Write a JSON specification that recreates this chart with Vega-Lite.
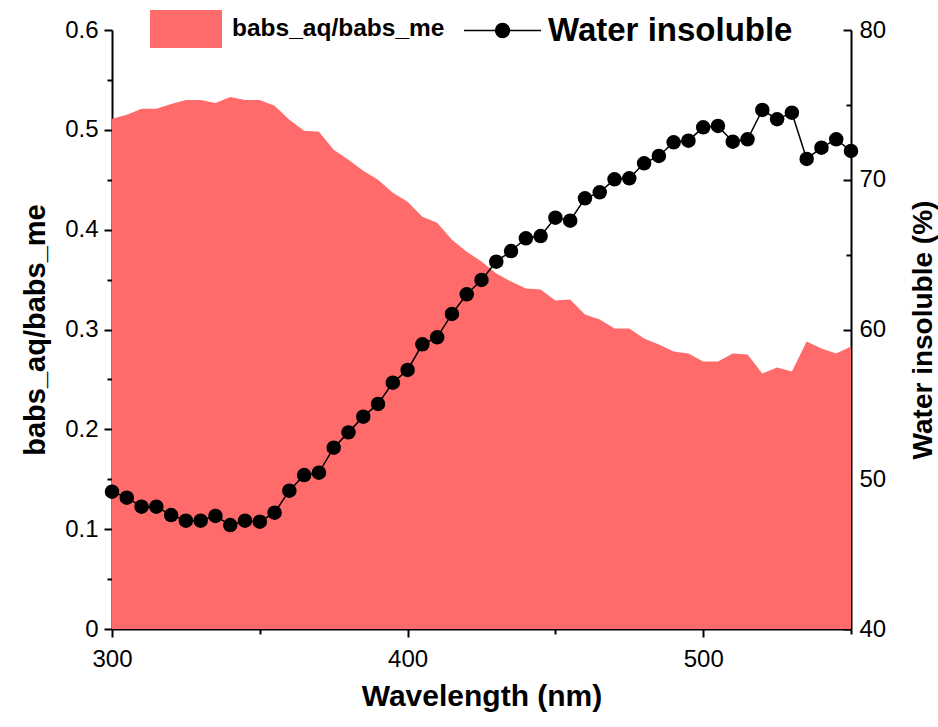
{
  "$schema": "https://vega.github.io/schema/vega-lite/v6.json",
  "width": 739,
  "height": 599,
  "autosize": {"type": "none"},
  "padding": {"left": 112, "top": 30, "right": 87, "bottom": 98},
  "background": "white",
  "config": {
    "view": {"stroke": null},
    "font": "Liberation Sans",
    "axis": {"grid": false, "domainColor": "black", "domainWidth": 2, "tickColor": "black", "tickWidth": 2, "labelColor": "black", "titleColor": "black", "labelFont": "Liberation Sans", "titleFont": "Liberation Sans", "labelFontSize": 24, "titleFontSize": 28, "titleFontWeight": "bold"}
  },
  "data": {"values": [
    {"wl": 300, "ratio": 0.511, "ins": 49.17},
    {"wl": 305, "ratio": 0.515, "ins": 48.77},
    {"wl": 310, "ratio": 0.521, "ins": 48.17},
    {"wl": 315, "ratio": 0.521, "ins": 48.17},
    {"wl": 320, "ratio": 0.526, "ins": 47.61},
    {"wl": 325, "ratio": 0.530, "ins": 47.23},
    {"wl": 330, "ratio": 0.530, "ins": 47.23},
    {"wl": 335, "ratio": 0.527, "ins": 47.55},
    {"wl": 340, "ratio": 0.533, "ins": 46.94},
    {"wl": 345, "ratio": 0.530, "ins": 47.23},
    {"wl": 350, "ratio": 0.530, "ins": 47.17},
    {"wl": 355, "ratio": 0.524, "ins": 47.77},
    {"wl": 360, "ratio": 0.510, "ins": 49.24},
    {"wl": 365, "ratio": 0.499, "ins": 50.28},
    {"wl": 370, "ratio": 0.498, "ins": 50.44},
    {"wl": 375, "ratio": 0.480, "ins": 52.11},
    {"wl": 380, "ratio": 0.470, "ins": 53.13},
    {"wl": 385, "ratio": 0.459, "ins": 54.18},
    {"wl": 390, "ratio": 0.450, "ins": 55.03},
    {"wl": 395, "ratio": 0.437, "ins": 56.45},
    {"wl": 400, "ratio": 0.428, "ins": 57.30},
    {"wl": 405, "ratio": 0.413, "ins": 59.01},
    {"wl": 410, "ratio": 0.407, "ins": 59.48},
    {"wl": 415, "ratio": 0.390, "ins": 61.04},
    {"wl": 420, "ratio": 0.378, "ins": 62.35},
    {"wl": 425, "ratio": 0.368, "ins": 63.31},
    {"wl": 430, "ratio": 0.356, "ins": 64.53},
    {"wl": 435, "ratio": 0.348, "ins": 65.24},
    {"wl": 440, "ratio": 0.341, "ins": 66.09},
    {"wl": 445, "ratio": 0.340, "ins": 66.24},
    {"wl": 450, "ratio": 0.329, "ins": 67.47},
    {"wl": 455, "ratio": 0.330, "ins": 67.27},
    {"wl": 460, "ratio": 0.315, "ins": 68.76},
    {"wl": 465, "ratio": 0.310, "ins": 69.16},
    {"wl": 470, "ratio": 0.301, "ins": 70.03},
    {"wl": 475, "ratio": 0.301, "ins": 70.10},
    {"wl": 480, "ratio": 0.291, "ins": 71.10},
    {"wl": 485, "ratio": 0.285, "ins": 71.59},
    {"wl": 490, "ratio": 0.278, "ins": 72.50},
    {"wl": 495, "ratio": 0.276, "ins": 72.61},
    {"wl": 500, "ratio": 0.268, "ins": 73.50},
    {"wl": 505, "ratio": 0.268, "ins": 73.59},
    {"wl": 510, "ratio": 0.276, "ins": 72.54},
    {"wl": 515, "ratio": 0.275, "ins": 72.70},
    {"wl": 520, "ratio": 0.256, "ins": 74.66},
    {"wl": 525, "ratio": 0.262, "ins": 74.04},
    {"wl": 530, "ratio": 0.258, "ins": 74.48},
    {"wl": 535, "ratio": 0.288, "ins": 71.39},
    {"wl": 540, "ratio": 0.281, "ins": 72.14},
    {"wl": 545, "ratio": 0.276, "ins": 72.70},
    {"wl": 550, "ratio": 0.283, "ins": 71.92}
  ]},
  "encoding": {
    "x": {
      "field": "wl", "type": "quantitative",
      "scale": {"domain": [300, 550], "nice": false, "zero": false},
      "axis": {
        "title": "Wavelength (nm)", "titlePadding": 10, "titleFontSize": 30,
        "values": [300, 350, 400, 450, 500, 550],
        "labelExpr": "datum.value % 100 == 0 ? datum.label : ''",
        "tickSize": {"condition": {"test": "datum.value % 100 != 0", "value": 5}, "value": 8},
        "labelPadding": 10, "labelFlush": false
      }
    }
  },
  "layer": [
    {
      "mark": {"type": "area", "color": "#FF6B6B", "opacity": 1, "interpolate": "linear"},
      "encoding": {
        "y": {
          "field": "ratio", "type": "quantitative",
          "scale": {"domain": [0, 0.6], "nice": false},
          "axis": {
            "title": "babs_aq/babs_me", "titlePadding": 14, "titleFontSize": 29,
            "values": [0, 0.05, 0.1, 0.15, 0.2, 0.25, 0.3, 0.35, 0.4, 0.45, 0.5, 0.55, 0.6],
            "labelExpr": "datum.value == 0 ? '0' : (round(datum.value*100) % 10 == 0 ? format(datum.value, '.1f') : '')",
            "tickSize": {"condition": {"test": "round(datum.value*100) % 10 != 0", "value": 5}, "value": 8},
            "labelPadding": 6, "labelFlush": false
          }
        },
        "fill": {
          "datum": "babs_aq/babs_me",
          "scale": {"range": ["#FF6B6B"]},
          "legend": {
            "title": null, "orient": "none", "legendX": 38, "legendY": -37,
            "symbolType": "M-1,-0.53H1V0.53H-1Z", "symbolSize": 5184, "symbolStrokeWidth": 0, "symbolOpacity": 1,
            "labelFontSize": 24.5, "labelFontWeight": "bold", "labelColor": "black", "labelFont": "Liberation Sans", "labelOffset": 10, "labelLimit": 0
          }
        }
      }
    },
    {
      "encoding": {
        "y": {
          "field": "ins", "type": "quantitative",
          "scale": {"domain": [40, 80], "nice": false, "zero": false},
          "axis": {
            "orient": "right", "title": "Water insoluble (%)", "titleAngle": -90, "titlePadding": 52,
            "values": [40, 45, 50, 55, 60, 65, 70, 75, 80],
            "labelExpr": "datum.value % 10 == 0 ? datum.label : ''",
            "tickSize": {"condition": {"test": "datum.value % 10 != 0", "value": -5}, "value": -8},
            "labelPadding": 16, "labelFlush": false
          }
        }
      },
      "layer": [
        {
          "mark": {"type": "line", "color": "black", "strokeWidth": 1.5},
          "encoding": {
            "stroke": {
              "datum": "Water insoluble",
              "scale": {"range": ["black"]},
              "legend": {
                "title": null, "orient": "none", "legendX": 351, "legendY": -39,
                "symbolType": "M-1,0H1M0.18,0A0.18,0.18 0 1,1 -0.18,0A0.18,0.18 0 1,1 0.18,0Z",
                "symbolSize": 5929, "symbolStrokeWidth": 1.5, "symbolFillColor": "black", "symbolStrokeColor": "black",
                "labelFontSize": 33, "labelFontWeight": "bold", "labelColor": "black", "labelFont": "Liberation Sans", "labelOffset": 6, "labelLimit": 0
              }
            }
          }
        },
        {
          "mark": {"type": "point", "shape": "circle", "filled": true, "color": "black", "size": 210, "opacity": 1}
        }
      ]
    }
  ],
  "resolve": {"scale": {"y": "independent", "fill": "independent", "stroke": "independent"}}
}
